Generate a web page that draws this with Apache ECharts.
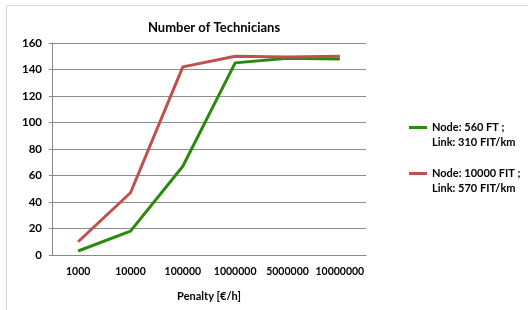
<!DOCTYPE html>
<html>
<head>
    <meta charset="utf-8">
    <title>Number of Technicians</title>
    <script src="https://cdn.jsdelivr.net/npm/echarts@6/dist/echarts.min.js"></script>
    <style>
        html, body {margin:0;padding:0;background:#fff;}
        #chart {width:528px;height:310px;}
    </style>
</head>
<body>
<div id="chart"></div>
<script>
    // 数据
    const penalties = ['1000', '10000', '100000', '1000000', '5000000', '10000000'];
    const lowFit = [3, 18, 67, 145, 148.5, 148];
    const highFit = [10, 47, 142, 150, 149.5, 150];
    const lowName = ' \nNode: 560 FT ;\nLink: 310 FIT/km';
    const highName = ' \nNode: 10000 FIT ;\nLink: 570 FIT/km';

    const font = 'Lato, "Liberation Sans", sans-serif';
    const chart = echarts.init(document.getElementById('chart'));

    chart.setOption({
        animation: false,
        title: {
            text: 'Number of Technicians',
            left: 209, top: 16, textAlign: 'center',
            textStyle: {fontFamily: font, fontSize: 13, fontWeight: 'bold', color: '#000'}
        },
        graphic: [{
            type: 'rect', z: -1,
            shape: {x: 6.5, y: 5.5, width: 540, height: 330},
            style: {fill: 'none', stroke: '#d9d9d9', lineWidth: 1}
        }],
        legend: {
            orient: 'vertical', left: 404, top: 100,
            itemWidth: 18, itemHeight: 3, itemGap: 1,
            icon: 'rect',
            textStyle: {fontFamily: font, fontSize: 11, fontWeight: 'bold', color: '#000', lineHeight: 15},
            data: [lowName, highName]
        },
        grid: {left: 52, right: 162, top: 43, bottom: 55, containLabel: false},
        xAxis: {
            type: 'category',
            data: penalties,
            boundaryGap: true,
            name: 'Penalty [€/h]',
            nameLocation: 'middle',
            nameGap: 36,
            nameTextStyle: {fontFamily: font, fontSize: 11, fontWeight: 'bold', color: '#000'},
            axisLine: {lineStyle: {color: '#888'}},
            axisTick: {length: 4, lineStyle: {color: '#888'}},
            axisLabel: {fontFamily: font, fontSize: 10.5, fontWeight: 'bold', color: '#000', margin: 11, interval: 0}
        },
        yAxis: {
            type: 'value',
            min: 0, max: 160, interval: 20,
            axisLine: {show: true, lineStyle: {color: '#888'}},
            axisTick: {show: true, length: 3, lineStyle: {color: '#888'}},
            axisLabel: {fontFamily: font, fontSize: 11.5, fontWeight: 'bold', color: '#000', margin: 10},
            splitLine: {lineStyle: {color: '#8c8c8c'}}
        },
        series: [{
            name: lowName, type: 'line', data: lowFit,
            symbol: 'none', color: '#2a8a0c',
            lineStyle: {width: 3}
        }, {
            name: highName, type: 'line', data: highFit,
            symbol: 'none', color: '#c0504d',
            lineStyle: {width: 3}
        }]
    });
</script>
</body>
</html>
